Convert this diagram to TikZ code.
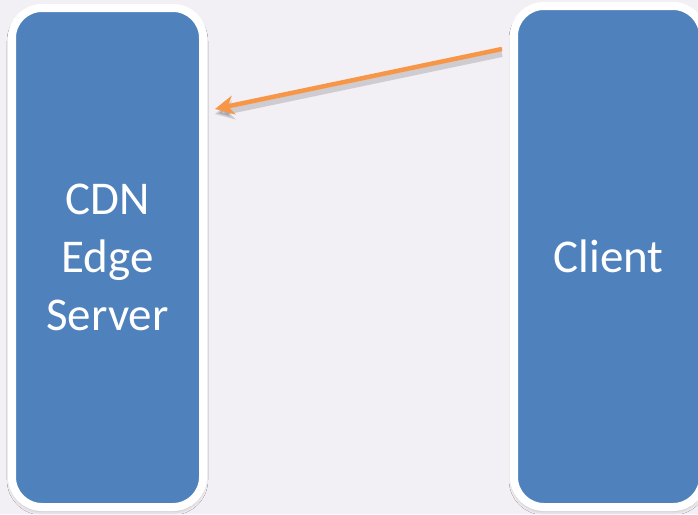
\documentclass[tikz,border=0pt]{standalone}
\usepackage{fontspec}
\setmainfont{Carlito}
\usetikzlibrary{arrows.meta,shadows.blur}
\definecolor{bgcol}{HTML}{F3F0F5}
\definecolor{boxblue}{HTML}{4F81BD}
\definecolor{arroworange}{HTML}{F79646}
\tikzset{
  server/.style={rectangle, draw=white, line width=8pt, fill=boxblue,
    rounded corners=30pt, text=white, align=center,
    font=\fontsize{47}{58}\selectfont,
    blur shadow={shadow xshift=0pt, shadow yshift=-3pt, shadow blur radius=5pt, shadow opacity=35}},
  flow/.style={draw=arroworange, line width=4.5pt,
    -{Stealth[length=19pt,width=19pt,inset=6pt]}},
  flowshadow/.style={draw=black, opacity=0.15, line width=6pt,
    -{Stealth[length=19pt,width=19pt,inset=6pt]}}
}
\begin{document}
\begin{tikzpicture}[x=1pt,y=-1pt]
\fill[bgcol] (0,0) rectangle (698,514);
\useasboundingbox (0,0) rectangle (698,514);
\node[server, minimum width=191pt, minimum height=499pt] (cdn) at (107.5,257.5) {CDN\\Edge\\Server};
\node[server, minimum width=189pt, minimum height=501pt] (client) at (608.5,256.5) {Client};
\coordinate (a1) at ([xshift=-8pt,yshift=-47pt]client.north west);
\coordinate (a2) at ([xshift=8pt,yshift=-105pt]cdn.north east);
\draw[flowshadow] ([yshift=-5pt]a1) -- ([yshift=-5pt]a2);
\draw[flow] (a1) -- (a2);
\end{tikzpicture}
\end{document}
